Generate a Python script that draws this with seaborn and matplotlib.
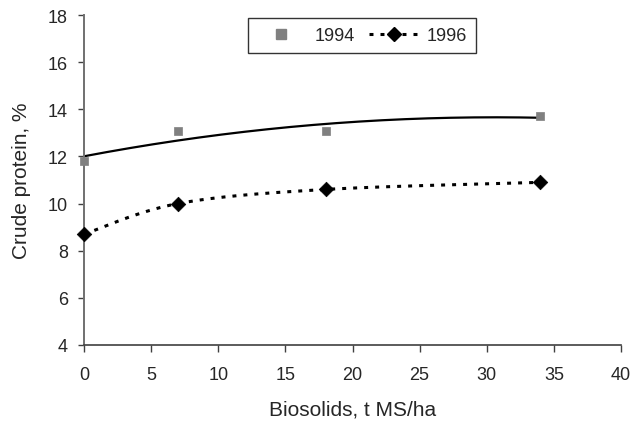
import numpy as np
import pandas as pd
import matplotlib
matplotlib.use("Agg")
import matplotlib.pyplot as plt
from matplotlib.lines import Line2D
import seaborn as sns

dose = [0, 7, 18, 34]
cp_1994 = [11.8, 13.1, 13.1, 13.7]
cp_1996 = [8.7, 10.0, 10.6, 10.9]
xticks = [0, 5, 10, 15, 20, 25, 30, 35, 40]
yticks = [4, 6, 8, 10, 12, 14, 16, 18]

sns.set_style("white")
plt.rcParams['font.family'] = ['Liberation Sans', 'DejaVu Sans']

W, H = 644, 427
fig = plt.figure(figsize=(W / 100, H / 100), dpi=100)
L, R, T, B = 84, 621, 16, 346
ax = fig.add_axes([L / W, 1 - B / H, (R - L) / W, (B - T) / H])

df = pd.DataFrame({"dose": dose, "1994": cp_1994, "1996": cp_1996})

# 1994: 2nd-order polynomial trend line of the data
xs = np.linspace(min(dose), max(dose), 200)
fit94 = np.polyval(np.polyfit(dose, cp_1994, 2), xs)
sns.lineplot(x=xs, y=fit94, ax=ax, color="black", lw=1.6, zorder=2)


# 1996: smoothed line through the data points (spreadsheet-style Bezier smoothing)
def smooth_xy(x, y, n=60):
    P = np.column_stack([x, y]).astype(float)
    out = []
    for i in range(len(P) - 1):
        p0 = P[i]
        p3 = P[i + 1]
        pm = P[i - 1] if i > 0 else P[i]
        pp = P[i + 2] if i + 2 < len(P) else P[i + 1]
        c1 = p0 + (p3 - pm) / 6.0
        c2 = p3 - (pp - p0) / 6.0
        t = np.linspace(0, 1, n)[:, None]
        seg = ((1 - t) ** 3) * p0 + 3 * ((1 - t) ** 2) * t * c1 + 3 * (1 - t) * t ** 2 * c2 + t ** 3 * p3
        out.append(seg if i == 0 else seg[1:])
    out = np.vstack(out)
    return out[:, 0], out[:, 1]


sx, sy = smooth_xy(dose, cp_1996)
ax.plot(sx, sy, color="black", lw=2.2, linestyle=(0, (1.3, 2.3)), zorder=2)

sns.scatterplot(data=df, x="dose", y="1994", ax=ax, marker="s", s=36, color="#808080",
                edgecolor="#808080", linewidth=0.5, zorder=3, clip_on=False)
sns.scatterplot(data=df, x="dose", y="1996", ax=ax, marker="D", s=55, color="black",
                edgecolor="black", linewidth=0.5, zorder=3, clip_on=False)

ax.set_xlim(0, 40)
ax.set_ylim(4, 18)
ax.set_xticks(xticks)
ax.set_yticks(yticks)
ax.tick_params(axis="x", direction="out", length=5, width=1, color="#404040",
               labelsize=13, pad=10, bottom=True)
ax.tick_params(axis="y", direction="out", length=4.5, width=1, color="#404040",
               labelsize=13, pad=7, left=True)
for s in ["top", "right"]:
    ax.spines[s].set_visible(False)
ax.spines["left"].set_color("#707070")
ax.spines["left"].set_linewidth(1.4)
ax.spines["bottom"].set_color("#404040")
ax.spines["bottom"].set_linewidth(1.2)

ax.set_xlabel("Biosolids, t MS/ha", fontsize=15, labelpad=12)
ax.set_ylabel("Crude protein, %", fontsize=15, labelpad=12)

h1 = Line2D([], [], marker="s", color="#808080", linestyle="none", markersize=6.5)
h2 = Line2D([], [], marker="D", color="black", linestyle=(0, (1.3, 2.3)), lw=2.2, markersize=7)
leg = ax.legend([h1, h2], ["1994", "1996"], ncol=2, loc="upper center",
                bbox_to_anchor=((362 - L) / (R - L), 1 - (19 - T) / (B - T)),
                frameon=True, fancybox=False, fontsize=13, handlelength=2.7,
                handletextpad=0.5, columnspacing=0.8, borderpad=0.5, borderaxespad=0)
leg.get_frame().set_edgecolor("black")
leg.get_frame().set_linewidth(1.0)

fig.savefig("out.png", dpi=100)
